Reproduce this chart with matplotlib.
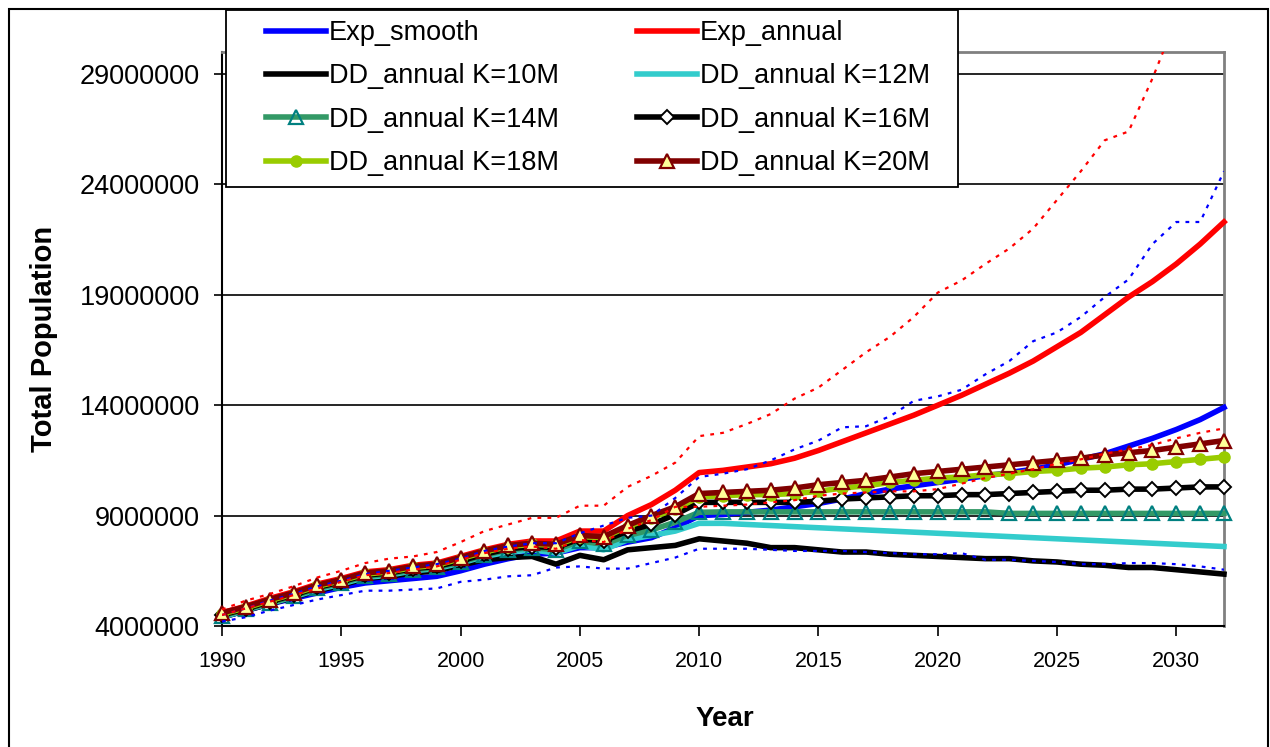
import matplotlib
matplotlib.use("Agg")
import matplotlib.pyplot as plt
from matplotlib import font_manager
from matplotlib.patches import Rectangle

# population values in millions, one per year 1990-2032
years = list(range(1990, 2033))

exp_smooth = [4.4, 4.7, 5.0, 5.25, 5.5, 5.75, 5.95, 6.05, 6.15, 6.25,
              6.5, 6.8, 7.05, 7.25, 7.3, 7.55, 7.55, 7.8, 8.0, 8.45,
              9.0, 9.05, 9.15, 9.25, 9.4, 9.55, 9.75, 10.0, 10.2, 10.35,
              10.5, 10.65, 10.8, 10.95, 11.1, 11.3, 11.55, 11.8, 12.15, 12.5,
              12.9, 13.35, 13.9]
exp_annual = [4.6, 4.9, 5.25, 5.55, 5.9, 6.15, 6.45, 6.55, 6.75, 6.85,
              7.15, 7.45, 7.7, 7.85, 7.85, 8.3, 8.3, 9.0, 9.5, 10.15,
              10.95, 11.05, 11.2, 11.35, 11.6, 11.95, 12.35, 12.75, 13.15, 13.55,
              14.0, 14.45, 14.95, 15.45, 16.0, 16.65, 17.3, 18.1, 18.9, 19.6,
              20.4, 21.3, 22.3]
k10 = [4.4, 4.7, 5.0, 5.3, 5.6, 5.85, 6.15, 6.25, 6.4, 6.5,
       6.75, 7.0, 7.1, 7.15, 6.8, 7.2, 7.0, 7.45, 7.55, 7.65,
       7.95, 7.85, 7.75, 7.55, 7.55, 7.45, 7.35, 7.35, 7.25, 7.2,
       7.15, 7.1, 7.05, 7.05, 6.95, 6.9, 6.8, 6.75, 6.65, 6.65,
       6.55, 6.45, 6.35]
k12 = [4.4, 4.72, 5.02, 5.32, 5.65, 5.9, 6.2, 6.3, 6.5, 6.6,
       6.85, 7.15, 7.35, 7.45, 7.3, 7.65, 7.45, 7.9, 8.1, 8.3,
       8.65, 8.65, 8.6, 8.55, 8.5, 8.45, 8.4, 8.35, 8.3, 8.25,
       8.2, 8.15, 8.1, 8.05, 8.0, 7.95, 7.9, 7.85, 7.8, 7.75,
       7.7, 7.65, 7.6]
k14 = [4.45, 4.75, 5.05, 5.35, 5.7, 5.95, 6.25, 6.35, 6.55, 6.65,
       6.9, 7.2, 7.45, 7.55, 7.45, 7.85, 7.7, 8.1, 8.35, 8.7,
       9.15, 9.17, 9.17, 9.17, 9.17, 9.17, 9.17, 9.17, 9.17, 9.17,
       9.17, 9.17, 9.17, 9.1, 9.1, 9.1, 9.1, 9.1, 9.1, 9.1,
       9.1, 9.1, 9.1]
k16 = [4.5, 4.78, 5.1, 5.4, 5.75, 6.0, 6.3, 6.4, 6.6, 6.7,
       6.95, 7.25, 7.5, 7.6, 7.55, 7.95, 7.85, 8.3, 8.6, 9.05,
       9.6, 9.6, 9.6, 9.6, 9.6, 9.65, 9.75, 9.8, 9.85, 9.9,
       9.9, 9.95, 9.95, 10.0, 10.05, 10.1, 10.15, 10.15, 10.2, 10.2,
       10.25, 10.3, 10.3]
k18 = [4.55, 4.82, 5.15, 5.45, 5.8, 6.05, 6.35, 6.45, 6.65, 6.75,
       7.05, 7.35, 7.6, 7.7, 7.65, 8.05, 8.0, 8.5, 8.9, 9.3,
       9.85, 9.9, 9.95, 9.95, 10.0, 10.1, 10.25, 10.35, 10.5, 10.6,
       10.7, 10.75, 10.85, 10.9, 11.0, 11.05, 11.15, 11.2, 11.3, 11.35,
       11.45, 11.55, 11.65]
k20 = [4.6, 4.87, 5.2, 5.5, 5.85, 6.1, 6.4, 6.5, 6.7, 6.8,
       7.1, 7.4, 7.65, 7.75, 7.7, 8.1, 8.05, 8.55, 9.0, 9.4,
       10.0, 10.05, 10.1, 10.15, 10.25, 10.4, 10.5, 10.6, 10.75, 10.9,
       11.0, 11.1, 11.2, 11.3, 11.4, 11.5, 11.6, 11.75, 11.85, 11.95,
       12.1, 12.25, 12.4]

# dotted bounds (no legend entry)
smooth_upper = [4.5, 4.8, 5.15, 5.45, 5.8, 6.05, 6.35, 6.5, 6.65, 6.8,
                7.05, 7.4, 7.6, 7.75, 7.75, 8.2, 8.55, 8.9, 9.0, 9.8,
                10.75, 10.9, 11.1, 11.5, 12.0, 12.4, 13.0, 13.05, 13.5, 14.2,
                14.4, 14.7, 15.4, 16.0, 16.9, 17.3, 18.0, 18.9, 19.7, 21.3,
                22.3, 22.3, 24.6]
smooth_lower = [4.2, 4.4, 4.7, 4.95, 5.2, 5.4, 5.6, 5.6, 5.65, 5.7,
                6.0, 6.1, 6.25, 6.3, 6.65, 6.7, 6.6, 6.6, 6.85, 7.1,
                7.5, 7.5, 7.5, 7.45, 7.4, 7.4, 7.4, 7.35, 7.3, 7.25,
                7.25, 7.3, 7.0, 7.0, 6.95, 6.9, 6.8, 6.8, 6.85, 6.85,
                6.8, 6.7, 6.55]
annual_upper = [4.75, 5.15, 5.45, 5.8, 6.2, 6.5, 6.85, 7.05, 7.15, 7.35,
                7.8, 8.3, 8.6, 8.9, 8.9, 9.45, 9.45, 10.3, 10.8, 11.4,
                12.6, 12.75, 13.15, 13.6, 14.3, 14.8, 15.6, 16.4, 17.1, 18.0,
                19.1, 19.65, 20.4, 21.1, 22.0, 23.3, 24.6, 26.0, 26.4, 28.8,
                31.5, 34.0, 36.5]
annual_lower = [4.5, 4.8, 5.1, 5.4, 5.7, 6.0, 6.3, 6.4, 6.55, 6.7,
                7.0, 7.3, 7.5, 7.6, 7.5, 7.9, 7.8, 8.4, 8.8, 9.4,
                9.4, 9.45, 9.5, 9.6, 9.7, 9.9, 10.0, 10.05, 10.1, 10.1,
                10.2, 10.45, 10.7, 10.9, 11.1, 11.35, 11.55, 11.8, 12.0, 12.2,
                12.5, 12.75, 12.95]

yticks = [4000000, 9000000, 14000000, 19000000, 24000000, 29000000]
xticks = list(range(1990, 2031, 5))


def mil(vals):
    return [v * 1e6 for v in vals]


names = {f.name for f in font_manager.fontManager.ttflist}
if "Liberation Sans Narrow" in names:
    narrow = "Liberation Sans Narrow"
    leg_fs, xt_fs, xl_fs = 23, 18.5, 23
else:
    narrow = "Liberation Sans"
    leg_fs, xt_fs, xl_fs = 19.5, 15.5, 20

W, H = 1270, 747
fig = plt.figure(figsize=(W / 100, H / 100), dpi=100)
ax = fig.add_axes([222 / W, 1 - 626 / H, (1224 - 222) / W, (626 - 52) / H])

lw = 4
h_smooth, = ax.plot(years, mil(exp_smooth), color="#0000FF", lw=lw, label="Exp_smooth", clip_on=False, zorder=3)
h_annual, = ax.plot(years, mil(exp_annual), color="#FF0000", lw=lw, label="Exp_annual", clip_on=False, zorder=3)
h10, = ax.plot(years, mil(k10), color="black", lw=lw, label="DD_annual K=10M", clip_on=False, zorder=3)
h12, = ax.plot(years, mil(k12), color="#33CCCC", lw=lw, label="DD_annual K=12M", clip_on=False, zorder=3)
h14, = ax.plot(years, mil(k14), color="#339966", lw=lw, marker="^", ms=10, mfc="none",
               mec="#008080", mew=1.6, label="DD_annual K=14M", clip_on=False, zorder=3)
h16, = ax.plot(years, mil(k16), color="black", lw=lw, marker="D", ms=7.5, mfc="white",
               mec="black", mew=1.4, label="DD_annual K=16M", clip_on=False, zorder=3)
h18, = ax.plot(years, mil(k18), color="#99CC00", lw=lw, marker="o", ms=8, mfc="#99CC00",
               mec="#99CC00", label="DD_annual K=18M", clip_on=False, zorder=3)
h20, = ax.plot(years, mil(k20), color="#800000", lw=lw, marker="^", ms=10, mfc="#FFFF99",
               mec="#800000", mew=1.6, label="DD_annual K=20M", clip_on=False, zorder=3)

dots = (0, (1.7, 2.8))
ax.plot(years, mil(smooth_upper), color="#0000FF", lw=1.6, ls=dots, zorder=4)
ax.plot(years, mil(smooth_lower), color="#0000FF", lw=1.6, ls=dots, zorder=4)
ax.plot(years, mil(annual_upper), color="#FF0000", lw=1.6, ls=dots, zorder=4)
ax.plot(years, mil(annual_lower), color="#FF0000", lw=1.6, ls=dots, zorder=4)

ax.set_xlim(1990, 2032)
ax.set_ylim(4e6, 30e6)
ax.set_yticks(yticks)
ax.set_yticklabels([str(v) for v in yticks], fontsize=19.5, family="Liberation Sans")
ax.set_xticks(xticks)
ax.set_xticklabels([str(v) for v in xticks], fontsize=xt_fs, family=narrow)
ax.tick_params(axis="y", length=6, width=1.2, pad=10)
ax.tick_params(axis="x", length=7, width=1.2, pad=11)

ax.yaxis.grid(True, color="black", lw=1.2)
ax.set_axisbelow(True)
for s in ["left", "bottom"]:
    ax.spines[s].set_color("black")
    ax.spines[s].set_linewidth(1.5)
for s in ["top", "right"]:
    ax.spines[s].set_color("#808080")
    ax.spines[s].set_linewidth(2)

ax.set_ylabel("Total Population", fontsize=21, fontweight="bold", family="Liberation Sans")
ax.yaxis.set_label_coords(-0.1637, 0.5)
ax.set_xlabel("Year", fontsize=xl_fs, fontweight="bold", family=narrow)
ax.xaxis.set_label_coords(0.502, -0.139)

# legend box drawn separately so the padding can match
fig.add_artist(Rectangle((226 / W, 1 - 187 / H), (958 - 226) / W, (187 - 10) / H,
                         transform=fig.transFigure, facecolor="white", edgecolor="black",
                         lw=1.3, zorder=4.5))
order = [h_smooth, h10, h14, h18, h_annual, h12, h16, h20]
leg = fig.legend(order, [h.get_label() for h in order], ncol=2,
                 loc="upper left", bbox_to_anchor=(266 / W, 1 - 20 / H),
                 prop={"family": narrow, "size": leg_fs},
                 frameon=False, handlelength=2.2, handletextpad=0.12,
                 labelspacing=0.64, borderpad=0, borderaxespad=0, columnspacing=2.9)

fig.add_artist(Rectangle((9 / W, -0.02), (1268 - 9) / W, 1 - 9 / H + 0.02,
                         transform=fig.transFigure, fill=False, ec="black", lw=1.5))

fig.savefig("out.png", dpi=100)
